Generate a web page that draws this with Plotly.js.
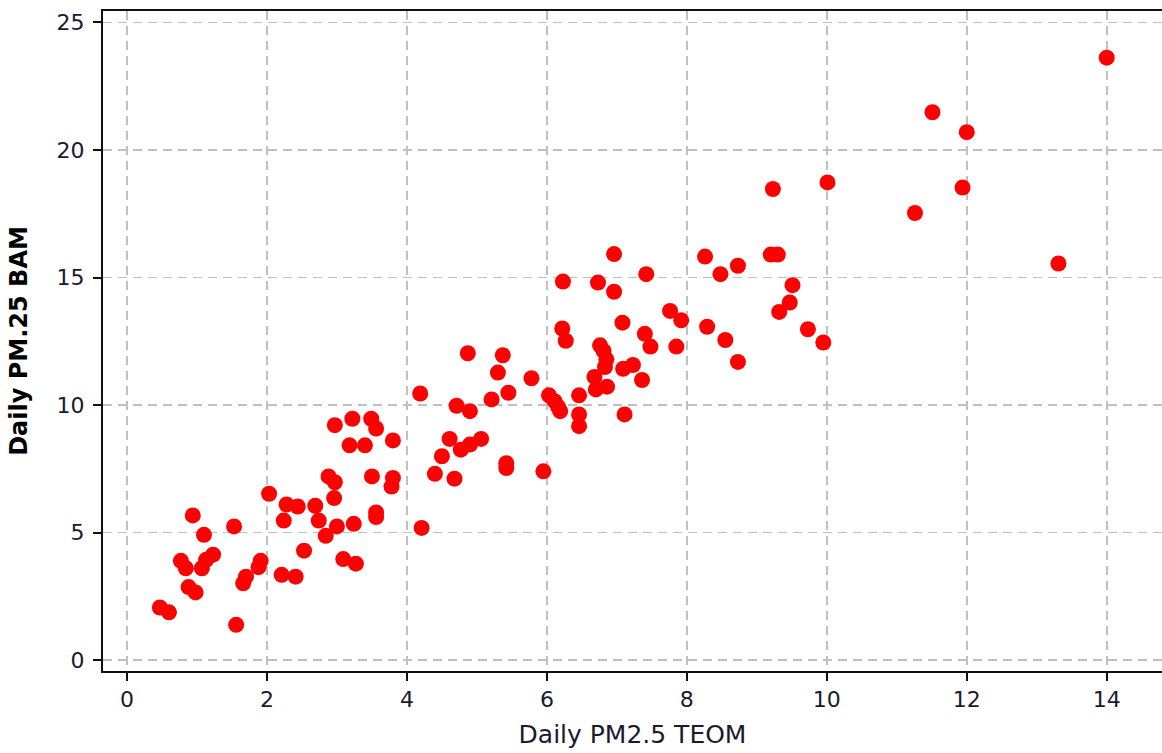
<!DOCTYPE html>
<html>
<head>
<meta charset="utf-8">
<script src="https://cdn.plot.ly/plotly-3.0.1.min.js"></script>
<style>html,body{margin:0;padding:0;background:#fff;}#chart{width:1162px;height:753px;}</style>
</head>
<body>
<div id="chart"></div>
<script>
var teom = [0.47,0.60,0.94,1.10,0.77,0.84,1.07,1.13,1.23,0.88,0.98,1.53,1.56,1.66,1.70,1.88,1.91,2.03,2.21,2.41,
  2.24,2.28,2.44,2.53,2.69,2.74,2.84,3.00,2.96,2.88,2.97,3.09,3.27,3.24,3.56,3.56,3.78,3.80,3.50,4.21,
  4.19,2.97,3.22,3.49,3.56,3.18,3.40,3.80,4.71,4.90,5.21,5.45,4.61,4.50,4.40,4.68,4.77,4.90,5.06,5.42,
  5.42,5.95,5.78,6.03,6.11,6.16,6.19,4.87,5.37,5.30,6.46,6.46,6.46,7.11,6.68,6.70,6.86,6.76,6.81,6.85,
  6.83,7.09,7.23,7.36,7.40,7.48,7.85,6.22,6.27,6.96,6.23,6.73,6.96,7.42,7.08,7.76,7.92,8.26,8.48,8.73,
  9.20,9.30,8.29,8.55,8.73,9.51,9.47,9.32,9.73,9.95,9.23,10.01,11.26,11.94,13.31,14.00,11.51,12.00];
var bam = [2.06,1.87,5.67,4.91,3.89,3.60,3.60,3.93,4.13,2.86,2.65,5.24,1.38,3.01,3.27,3.64,3.89,6.52,3.34,3.27,
  5.47,6.10,6.02,4.29,6.05,5.47,4.87,5.24,6.35,7.20,6.97,3.96,3.78,5.34,5.79,5.61,6.80,7.14,7.20,5.18,
  10.45,9.21,9.46,9.46,9.08,8.42,8.42,8.61,9.97,9.76,10.22,10.48,8.67,7.99,7.30,7.11,8.25,8.45,8.67,7.72,
  7.53,7.40,11.05,10.38,10.15,9.93,9.76,12.03,11.95,11.27,10.38,9.63,9.17,9.63,11.10,10.61,10.72,12.34,12.12,11.79,
  11.49,11.42,11.57,10.98,12.79,12.29,12.29,13.00,12.52,15.92,14.84,14.80,14.44,15.13,13.23,13.69,13.32,15.82,15.13,15.46,
  15.90,15.90,13.07,12.55,11.69,14.70,14.02,13.65,12.97,12.45,18.47,18.73,17.53,18.53,15.55,23.62,21.48,20.70];
var xTicks = [0,2,4,6,8,10,12,14];
var yTicks = [0,5,10,15,20,25];
var xTitle = 'Daily PM2.5 TEOM';
var yTitle = 'Daily PM.25 BAM';

var font = 'DejaVu Sans, Verdana, sans-serif';
var trace = {
  x: teom, y: bam, type: 'scatter', mode: 'markers',
  marker: {color: '#ff0000', size: 16, line: {width: 0}},
  hoverinfo: 'x+y'
};
var layout = {
  width: 1162, height: 753,
  margin: {l: 103, r: 0, t: 11, b: 82, pad: 0},
  paper_bgcolor: '#ffffff', plot_bgcolor: '#ffffff',
  showlegend: false,
  font: {family: font, size: 22, color: '#1a1a2e'},
  xaxis: {
    range: [-0.343, 14.79], tickvals: xTicks, ticktext: xTicks.map(String),
    showgrid: true, gridcolor: '#c0c0c0', gridwidth: 1.8, griddash: '9px,6px',
    zeroline: false, showline: true, linecolor: '#111', linewidth: 2, mirror: true,
    ticks: 'outside', ticklen: 8, tickwidth: 2, tickcolor: '#111',
    tickfont: {family: font, size: 22, color: '#1a1a2e'},
    title: {text: xTitle, font: {family: font, size: 25, color: '#1a1a2e'}, standoff: 14},
    automargin: false, fixedrange: true
  },
  yaxis: {
    range: [-0.43, 25.45], tickvals: yTicks, ticktext: yTicks.map(String),
    showgrid: true, gridcolor: '#c0c0c0', gridwidth: 1.8, griddash: '9px,6px',
    zeroline: false, showline: true, linecolor: '#111', linewidth: 2,
    ticks: 'outside', ticklen: 8, tickwidth: 2, tickcolor: '#111',
    ticklabelstandoff: 4,
    tickfont: {family: font, size: 22, color: '#1a1a2e'},
    title: {text: '<b>' + yTitle + '</b>', font: {family: font, size: 24, color: '#000'}, standoff: 22},
    automargin: false, fixedrange: true
  }
};
Plotly.newPlot('chart', [trace], layout, {displayModeBar: false, staticPlot: true});
</script>
</body>
</html>
